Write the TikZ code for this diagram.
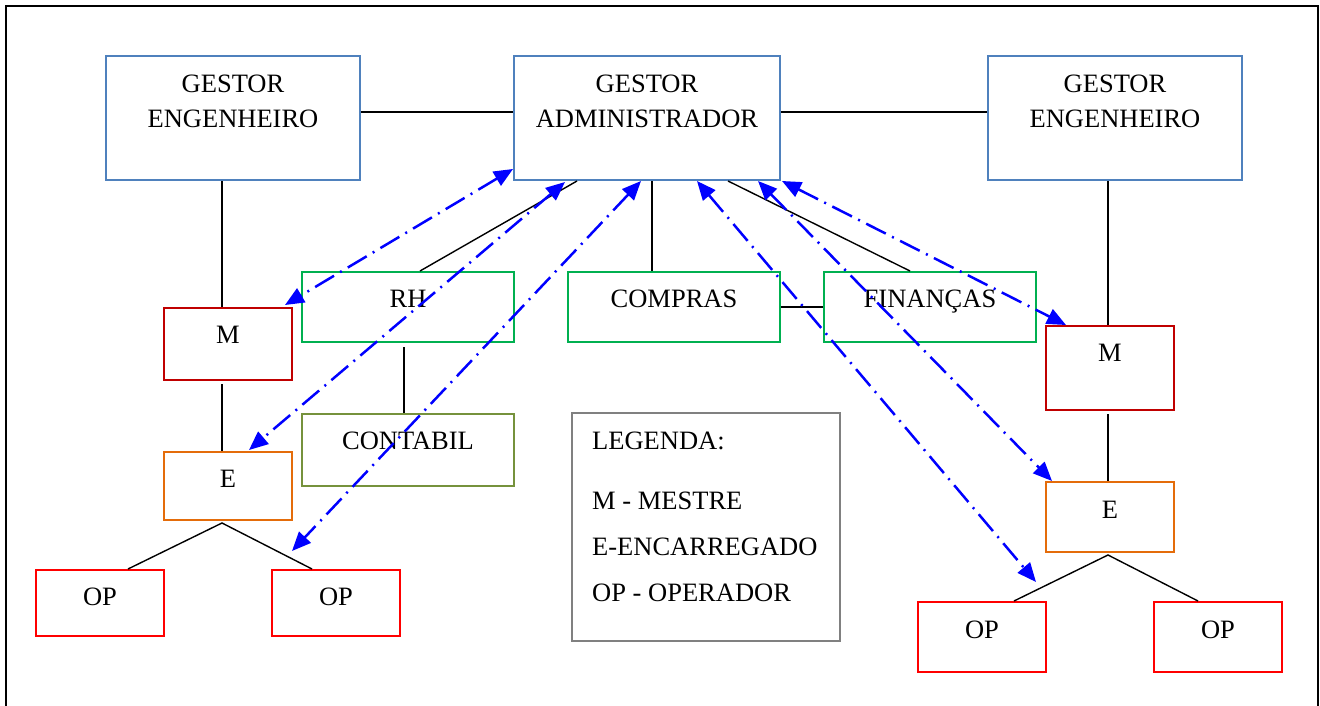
\documentclass[tikz,border=0pt]{standalone}
\usepackage{fontspec}
\setmainfont{Liberation Serif}
\usetikzlibrary{arrows.meta,calc}

\definecolor{gestorblue}{RGB}{79,129,189}
\definecolor{setorgreen}{RGB}{0,176,80}
\definecolor{mestrered}{RGB}{192,0,0}
\definecolor{oprred}{RGB}{255,0,0}
\definecolor{encorange}{RGB}{228,108,10}
\definecolor{contolive}{RGB}{118,146,60}
\definecolor{legendgray}{RGB}{128,128,128}
\definecolor{flowblue}{RGB}{0,0,255}

\begin{document}
\begin{tikzpicture}[x=1pt, y=-1pt,
    box/.style={draw, line width=2pt, inner sep=0pt},
    gestor/.style={box, draw=gestorblue, minimum width=254, minimum height=124},
    setor/.style={box, draw=setorgreen, minimum width=212, minimum height=70},
    mestre/.style={box, draw=mestrered, minimum width=128},
    encarregado/.style={box, draw=encorange, minimum width=128},
    operador/.style={box, draw=oprred, minimum width=128},
    txt/.style={font=\fontsize{26.5}{35}\selectfont, inner sep=0pt, anchor=base},
    link/.style={line width=1.4pt},
    flow/.style={draw=flowblue, line width=2.5pt, dash pattern=on 22pt off 7pt on 2pt off 7pt,
        {Triangle[length=19pt,width=16pt]}-{Triangle[length=19pt,width=16pt]}}]
    \useasboundingbox (0,0) rectangle (1320,706);
    \draw[line width=2pt] (6,720) -- (6,6) -- (1318,6) -- (1318,720);

    % gestores
    \node[gestor] (gel) at (233,118) {};
    \node[gestor, minimum width=266] (ga) at (647,118) {};
    \node[gestor] (ger) at (1115,118) {};
    \node[txt, anchor=north, align=center] (gel-t) at (233,74.5) {GESTOR\\ENGENHEIRO};
    \node[txt, anchor=north, align=center] (ga-t) at (647,74.5) {GESTOR\\ADMINISTRADOR};
    \node[txt, anchor=north, align=center] (ger-t) at (1115,74.5) {GESTOR\\ENGENHEIRO};

    % setores
    \node[setor] (rh) at (408,307) {};
    \node[setor] (co) at (674,307) {};
    \node[setor] (fi) at (930,307) {};
    \node[setor, draw=contolive, minimum height=72] (ct) at (408,450) {};
    \node[txt] (rh-t) at (408,307) {RH};
    \node[txt] (co-t) at (674,307) {COMPRAS};
    \node[txt] (fi-t) at (930,307) {FINANÇAS};
    \node[txt] (ct-t) at (408,449) {CONTABIL};

    % obra esquerda
    \node[mestre, minimum height=72] (ml) at (228,344) {};
    \node[encarregado, minimum height=68] (el) at (228,486) {};
    \node[operador, minimum height=66] (opl1) at (100,603) {};
    \node[operador, minimum height=66] (opl2) at (336,603) {};
    \node[txt] (ml-t) at (228,343) {M};
    \node[txt] (el-t) at (228,487) {E};
    \node[txt] (opl1-t) at (100,605) {OP};
    \node[txt] (opl2-t) at (336,605) {OP};

    % obra direita
    \node[mestre, minimum height=84] (mr) at (1110,368) {};
    \node[encarregado, minimum height=70] (er) at (1110,517) {};
    \node[operador, minimum height=70] (opr1) at (982,637) {};
    \node[operador, minimum height=70] (opr2) at (1218,637) {};
    \node[txt] (mr-t) at (1110,361) {M};
    \node[txt] (er-t) at (1110,518) {E};
    \node[txt] (opr1-t) at (982,638) {OP};
    \node[txt] (opr2-t) at (1218,638) {OP};

    % legenda
    \node[box, draw=legendgray, minimum width=268, minimum height=228] (lg) at (706,527) {};
    \node[txt, anchor=north west, align=left, font=\fontsize{26.5}{46}\selectfont] (lg-t) at (592,432)
        {LEGENDA:\\[14pt]M - MESTRE\\E-ENCARREGADO\\OP - OPERADOR};

    % ligacoes
    \coordinate (fel) at ($(el.south)+(-6,2)$);
    \coordinate (fer) at ($(er.south)+(-2,2)$);
    \draw[link] ($(gel.east)+(0,-6)$) -- ($(ga.west)+(0,-6)$);
    \draw[link] ($(ga.east)+(0,-6)$) -- ($(ger.west)+(0,-6)$);
    \draw[link] ($(gel.south)+(-11,0)$) -- ($(ml.north)+(-6,0)$);
    \draw[link] ($(ml.south)+(-6,3)$) -- ($(el.north)+(-6,0)$);
    \draw[link] ($(opl1.north)+(28,0)$) -- (fel) -- ($(opl2.north)+(-24,0)$);
    \draw[link] ($(ga.south west)+(64,0)$) -- ($(rh.north)+(12,0)$);
    \draw[link] ($(ga.south)+(5,0)$) -- ($(co.north)+(-22,0)$);
    \draw[link] ($(ga.south)+(81,0)$) -- ($(fi.north)+(-20,0)$);
    \draw[link] (co.east) -- (fi.west);
    \draw[link] ($(rh.south)+(-4,4)$) -- ($(ct.north)+(-4,0)$);
    \draw[link] ($(ger.south)+(-7,0)$) -- ($(mr.north)+(-2,0)$);
    \draw[link] ($(mr.south)+(-2,3)$) -- ($(er.north)+(-2,0)$);
    \draw[link] ($(opr1.north)+(32,0)$) -- (fer) -- ($(opr2.north)+(-20,0)$);

    % comunicacao com o administrador
    \draw[flow] ($(ga.south west)+(0,-12)$) -- ($(ml.north east)+(-8,-2)$);
    \draw[flow] ($(ga.south west)+(52,1)$) -- ($(el.north)+(21,-1)$);
    \draw[flow] ($(ga.south)+(-6,0)$) -- ($(opl2.north west)+(21,-18)$);
    \draw[flow] ($(ga.south)+(50,0)$) -- ($(opr1.north east)+(-11,-19)$);
    \draw[flow] ($(ga.south)+(111,0)$) -- ($(er.north west)+(7,0)$);
    \draw[flow] ($(ga.south east)+(1,0)$) -- ($(mr.north west)+(21,0)$);
\end{tikzpicture}
\end{document}
